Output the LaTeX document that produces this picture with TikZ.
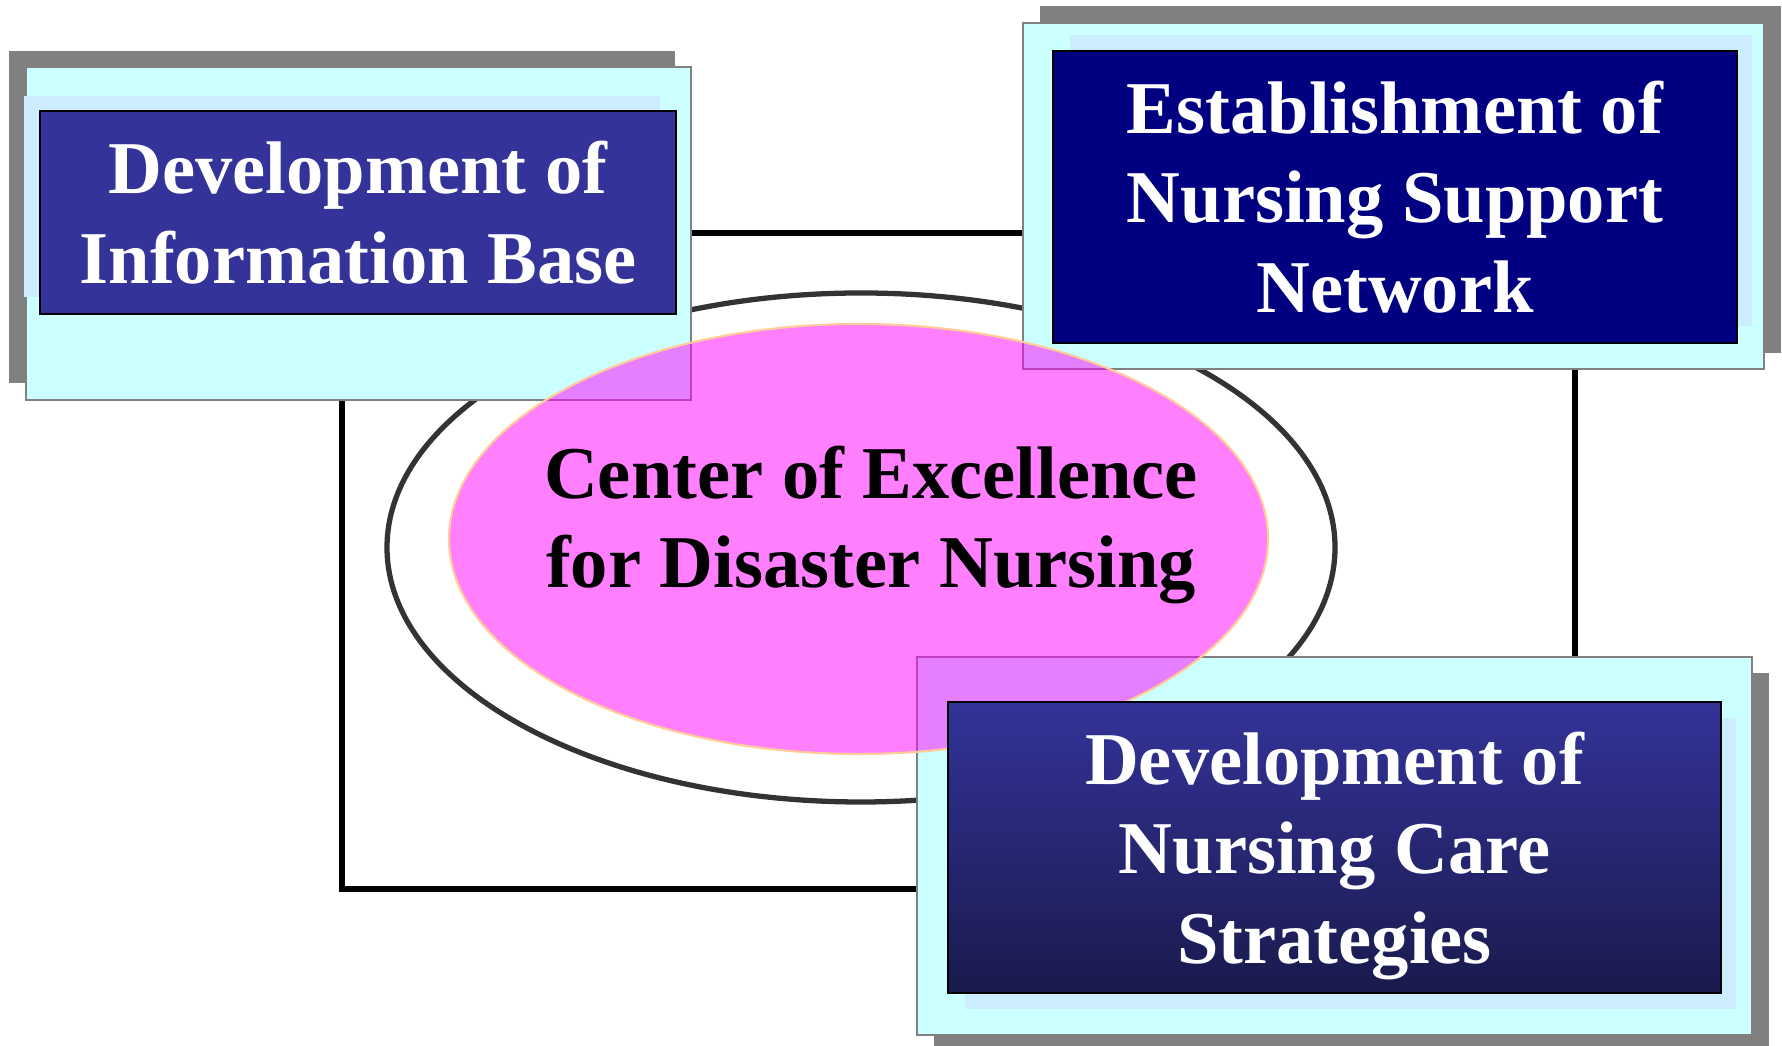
\documentclass[tikz,border=0pt]{standalone}
\usepackage{fontspec}
\setmainfont{Liberation Serif}
\usetikzlibrary{shapes.geometric}

\definecolor{shadowgray}{HTML}{808080}
\definecolor{paleblue}{HTML}{CCFFFF}
\definecolor{panelblue}{HTML}{CCECFF}
\definecolor{infoblue}{HTML}{333399}
\definecolor{netblue}{HTML}{000080}
\definecolor{caredark}{HTML}{1A1A4D}
\definecolor{peach}{HTML}{FFCC99}
\definecolor{ringgray}{HTML}{333333}
\definecolor{corepink}{HTML}{FF00FF}

\tikzset{
  shadowbox/.style={fill=shadowgray, inner sep=0pt, outer sep=0pt},
  outerbox/.style={fill=paleblue, draw=shadowgray, line width=0.5pt, inner sep=0pt},
  panel/.style={fill=panelblue, inner sep=0pt},
  titlebox/.style={draw=black, line width=0.7pt, text=white, align=center, inner sep=0pt,
    font=\bfseries\fontsize{21.2}{25.5}\selectfont},
}

\begin{document}
\begin{tikzpicture}
        \useasboundingbox (0, 0) rectangle (17.82, 10.46);

        % Frame linking the three boxes
        \coordinate (framesw) at (3.42, 1.57);
        \coordinate (framene) at (15.75, 8.13);
        \draw[line width=1.9pt] (framesw) rectangle (framene);

        % Outer ring
        \node[ellipse, draw=ringgray, fill=white, line width=1.5pt, inner sep=0pt,
              minimum width=9.48cm, minimum height=5.09cm] (ring) at (8.61, 4.985) {};

        % Information base box
        \node[shadowbox, minimum width=6.66cm, minimum height=3.32cm] (infoshadow) at (3.42, 8.29) {};
        \node[outerbox, minimum width=6.65cm, minimum height=3.33cm] (infoframe) at (3.585, 8.125) {};

        % Support network box
        \node[shadowbox, minimum width=7.41cm, minimum height=3.47cm] (netshadow) at (14.105, 8.665) {};
        \node[outerbox, minimum width=7.41cm, minimum height=3.46cm] (netframe) at (13.935, 8.50) {};

        % Care strategies box
        \node[shadowbox, minimum width=8.35cm, minimum height=3.73cm] (careshadow) at (13.515, 1.865) {};
        \node[outerbox, minimum width=8.35cm, minimum height=3.78cm] (careframe) at (13.345, 2.00) {};

        % Center of excellence
        \node[ellipse, fill=corepink, fill opacity=0.5, draw=peach, line width=0.6pt, inner sep=0pt,
              minimum width=8.19cm, minimum height=4.30cm] (core) at (8.585, 5.07) {};
        \node[align=center, font=\bfseries\fontsize{21.2}{25.5}\selectfont] (coretext) at (8.71, 5.21)
              {Center of Excellence\\for Disaster Nursing};

        % Inner panels and titles
        \node[panel, minimum width=6.36cm, minimum height=2.01cm] (infopanel) at (3.42, 8.495) {};
        \node[titlebox, fill=infoblue, minimum width=6.36cm, minimum height=2.03cm] (info) at (3.58, 8.335)
              {Development of\\Information Base};

        \node[panel, minimum width=6.82cm, minimum height=2.91cm] (netpanel) at (14.11, 8.655) {};
        \node[titlebox, fill=netblue, minimum width=6.84cm, minimum height=2.92cm] (net) at (13.95, 8.49)
              {Establishment of\\Nursing Support\\Network};

        \node[panel, minimum width=7.71cm, minimum height=2.91cm] (carepanel) at (13.505, 1.825) {};
        \node[titlebox, top color=infoblue, bottom color=caredark, minimum width=7.73cm, minimum height=2.91cm]
              (care) at (13.345, 1.985) {};
        \node[titlebox, draw=none] (caretext) at (13.345, 1.90) {Development of\\Nursing Care\\Strategies};
\end{tikzpicture}
\end{document}
